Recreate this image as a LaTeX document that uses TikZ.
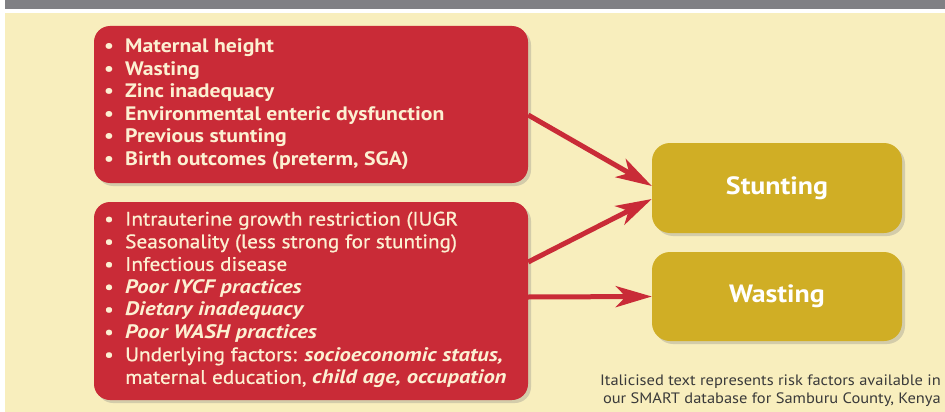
\documentclass[tikz,border=0pt]{standalone}
\usepackage{fontspec}
\setmainfont{PT Sans}[
  UprightFeatures={FakeStretch=1.09},
  BoldFeatures={FakeStretch=1.115},
  ItalicFeatures={FakeStretch=1.09},
  BoldItalicFeatures={FakeStretch=1.16}]
\newfontfamily\semib{PT Sans}[
  UprightFeatures={FakeStretch=1.09,FakeBold=0.8},
  BoldFeatures={FakeStretch=1.115},
  ItalicFeatures={FakeStretch=1.09},
  BoldItalicFeatures={FakeStretch=1.16}]
\usetikzlibrary{arrows.meta,shadows,calc}
\definecolor{band}{HTML}{808084}
\definecolor{cream}{HTML}{F8EEBD}
\definecolor{boxred}{HTML}{C92B37}
\definecolor{gold}{HTML}{D0AE25}
\definecolor{txtcream}{HTML}{FCF0D2}
\definecolor{notegray}{HTML}{3A3A3A}
\newcommand\itm{\makebox[21pt][l]{\textbullet}}
\tikzset{
  redbox/.style={draw=none,fill=boxred,rounded corners=16pt,
    drop shadow={opacity=0.3,shadow xshift=3pt,shadow yshift=-3pt}},
  goldbox/.style={draw=none,fill=gold,rounded corners=18pt,
    drop shadow={opacity=0.3,shadow xshift=3pt,shadow yshift=-3pt}},
  listtext/.style={anchor=north west,inner sep=0pt,align=left,text=txtcream,
    font=\fontsize{19.5}{22.6}\selectfont},
  outlabel/.style={text=white,font=\fontsize{25}{30}\selectfont\bfseries},
  riskarrow/.style={draw=boxred,line width=5pt,
    -{Stealth[length=36pt,width=21pt,inset=10pt]}},
}
\begin{document}
\begin{tikzpicture}[x=1pt,y=-1pt]
\useasboundingbox (0,0) rectangle (945,412);
\fill[white] (0,0) rectangle (945,412);
\fill[band] (5,0) rectangle (945,9);
\fill[cream] (5,13) rectangle (945,412);

\node[redbox,minimum width=434pt,minimum height=157pt] (top) at (311,104.5) {};
\node[redbox,minimum width=434pt,minimum height=198pt] (bot) at (311,301) {};
\node[goldbox,minimum width=250pt,minimum height=90pt] (stunt) at (777,188) {};
\node[goldbox,minimum width=250pt,minimum height=89pt] (waste) at (777,296.5) {};

\node[outlabel] (stuntlbl) at (stunt.center) {Stunting};
\node[outlabel] (wastelbl) at (waste.center) {Wasting};

\node[listtext,font=\fontsize{19.5}{22.6}\selectfont\bfseries] (toplist) at (104,38.5) {%
\itm Maternal height\\
\itm Wasting\\
\itm Zinc inadequacy\\
\itm Environmental enteric dysfunction\\
\itm Previous stunting\\
\itm Birth outcomes (preterm, SGA)};

\node[listtext,font=\fontsize{19.5}{22.6}\selectfont\semib] (botlist) at (104,211.5) {%
\itm Intrauterine growth restriction (IUGR\\
\itm Seasonality (less strong for stunting)\\
\itm Infectious disease\\
\itm \textbf{\textit{Poor IYCF practices}}\\
\itm \textbf{\textit{Dietary inadequacy}}\\
\itm \textbf{\textit{Poor WASH practices}}\\
\itm Underlying factors: \textbf{\textit{socioeconomic status,}}\\
\hspace*{21pt}maternal education, \textbf{\textit{child age, occupation}}};

\draw[riskarrow] ([yshift=-10.5pt]top.east) -- ([yshift=2pt]stunt.west);
\draw[riskarrow] ([yshift=39pt]bot.east) -- ([yshift=-11pt]stunt.west);
\draw[riskarrow] ([yshift=4pt]bot.east) -- (waste.west);

\node[anchor=south east,inner sep=0pt,align=right,text=notegray,
  font=\fontsize{15.1}{18.5}\selectfont] (note) at (941,407)
  {Italicised text represents risk factors available in\\
   our SMART database for Samburu County, Kenya};
\end{tikzpicture}
\end{document}
